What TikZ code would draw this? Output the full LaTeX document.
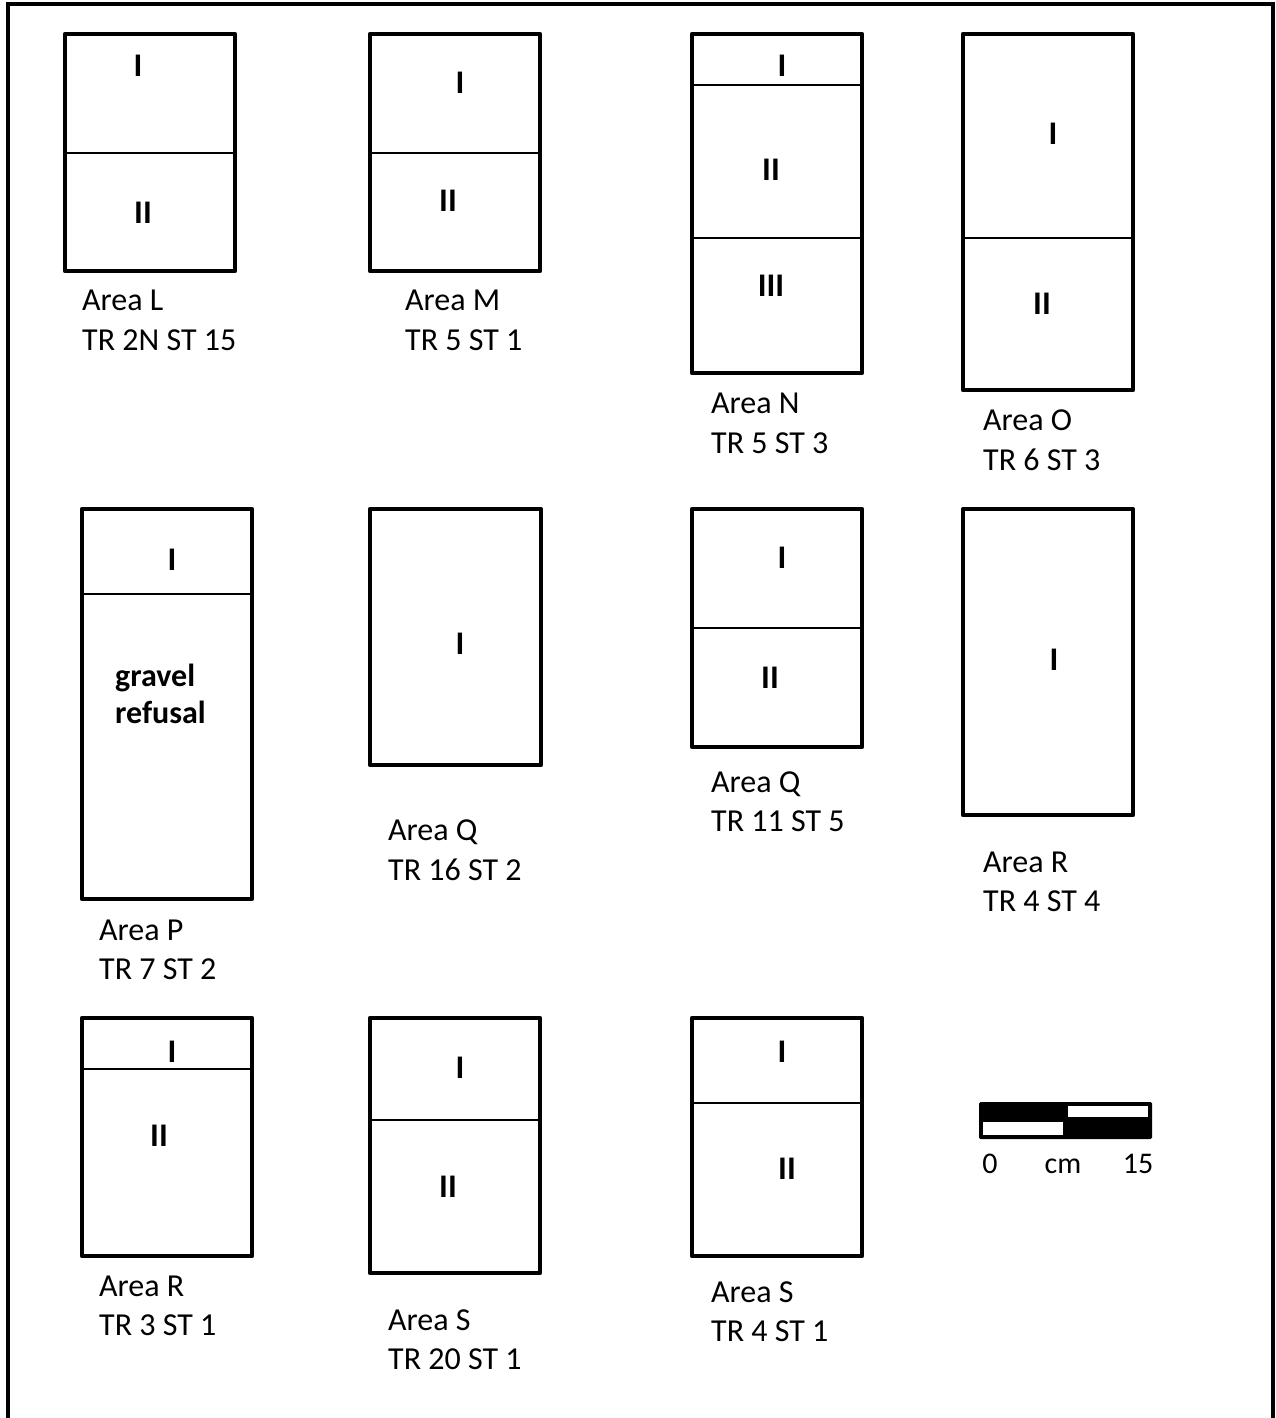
\documentclass[tikz,border=0pt]{standalone}
\usepackage{fontspec}
\setmainfont{Carlito}
\begin{document}
\begin{tikzpicture}[x=1pt,y=-1pt,
  frame/.style={line width=4pt},
  pit/.style={draw, line width=4.5pt, line join=round},
  layer/.style={line width=2pt},
  num/.style={inner sep=0pt, font=\fontsize{33}{38}\selectfont\bfseries},
  lbl/.style={inner sep=0pt, anchor=base west, font=\fontsize{32}{38}\selectfont},
  sc/.style={inner sep=0pt, anchor=base, font=\fontsize{30}{36}\selectfont}]
\useasboundingbox (0,0) rectangle (1275,1418);
% outer frame (open at bottom)
\draw[frame] (8,1418) -- (8,4) -- (1273,4) -- (1273,1418);

% ---- Row 1 ----
% Area L
\draw[pit] (65,34) rectangle (235,271);
\draw[layer] (65,153) -- (235,153);
\node[num] (L1) at (138,66) {I};
\node[num] (L2) at (143,213) {II};
\node[lbl] (La) at (82,310) {Area L};
\node[lbl] (Lb) at (82,350) {TR 2N ST 15};
% Area M
\draw[pit] (370,34) rectangle (540,271);
\draw[layer] (370,153) -- (540,153);
\node[num] (M1) at (460,83) {I};
\node[num] (M2) at (448,201) {II};
\node[lbl] (Ma) at (405,310) {Area M};
\node[lbl] (Mb) at (405,350) {TR 5 ST 1};
% Area N
\draw[pit] (692,34) rectangle (862,373);
\draw[layer] (692,85) -- (862,85);
\draw[layer] (692,238) -- (862,238);
\node[num] (N1) at (782,66) {I};
\node[num] (N2) at (771,170) {II};
\node[num] (N3) at (771,286) {III};
\node[lbl] (Na) at (711,413) {Area N};
\node[lbl] (Nb) at (711,453) {TR 5 ST 3};
% Area O
\draw[pit] (963,34) rectangle (1133,390);
\draw[layer] (963,238) -- (1133,238);
\node[num] (O1) at (1053,134) {I};
\node[num] (O2) at (1042,304) {II};
\node[lbl] (Oa) at (983,430) {Area O};
\node[lbl] (Ob) at (983,470) {TR 6 ST 3};

% ---- Row 2 ----
% Area P
\draw[pit] (82,509) rectangle (252,899);
\draw[layer] (82,594) -- (252,594);
\node[num] (P1) at (172,560) {I};
\node[lbl, font=\fontsize{32}{38}\selectfont\bfseries] (Pg) at (115,686) {gravel};
\node[lbl, font=\fontsize{32}{38}\selectfont\bfseries] (Pr) at (115,723) {refusal};
\node[lbl] (Pa) at (99,940) {Area P};
\node[lbl] (Pb) at (99,979) {TR 7 ST 2};
% Area Q (TR 16)
\draw[pit] (370,509) rectangle (541,765);
\node[num] (Q1) at (460,644) {I};
\node[lbl] (Qa) at (388,840) {Area Q};
\node[lbl] (Qb) at (388,880) {TR 16 ST 2};
% Area Q (TR 11)
\draw[pit] (692,509) rectangle (862,747);
\draw[layer] (692,628) -- (862,628);
\node[num] (QQ1) at (782,558) {I};
\node[num] (QQ2) at (770,678) {II};
\node[lbl] (QQa) at (711,792) {Area Q};
\node[lbl] (QQb) at (711,831) {TR 11 ST 5};
% Area R (TR 4)
\draw[pit] (963,509) rectangle (1133,815);
\node[num] (R1) at (1054,660) {I};
\node[lbl] (Ra) at (983,872) {Area R};
\node[lbl] (Rb) at (983,911) {TR 4 ST 4};

% ---- Row 3 ----
% Area R (TR 3)
\draw[pit] (82,1018) rectangle (252,1256);
\draw[layer] (82,1069) -- (252,1069);
\node[num] (RR1) at (172,1052) {I};
\node[num] (RR2) at (159,1136) {II};
\node[lbl] (RRa) at (99,1296) {Area R};
\node[lbl] (RRb) at (99,1335) {TR 3 ST 1};
% Area S (TR 20)
\draw[pit] (370,1018) rectangle (540,1273);
\draw[layer] (370,1120) -- (540,1120);
\node[num] (S1) at (460,1068) {I};
\node[num] (S2) at (448,1187) {II};
\node[lbl] (Sa) at (388,1330) {Area S};
\node[lbl] (Sb) at (388,1369) {TR 20 ST 1};
% Area S (TR 4)
\draw[pit] (692,1018) rectangle (862,1256);
\draw[layer] (692,1103) -- (862,1103);
\node[num] (SS1) at (782,1052) {I};
\node[num] (SS2) at (787,1169) {II};
\node[lbl] (SSa) at (711,1302) {Area S};
\node[lbl] (SSb) at (711,1341) {TR 4 ST 1};

% ---- scale bar ----
\fill[rounded corners=1.5pt] (979,1102) rectangle (1152,1139);
\fill[white] (1068,1106) rectangle (1148,1117);
\fill[white] (983,1122) rectangle (1063,1135);
\node[sc] (s0) at (990,1173) {0};
\node[sc] (scm) at (1063,1173) {cm};
\node[sc] (s15) at (1138,1173) {15};
\end{tikzpicture}
\end{document}
